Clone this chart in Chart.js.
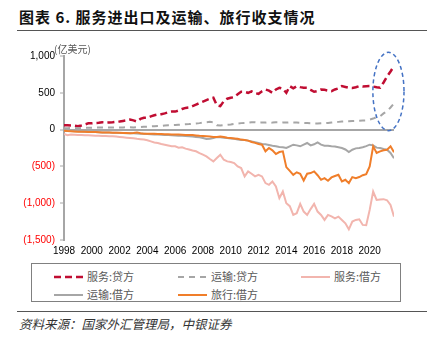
<!DOCTYPE html>
<html lang="zh">
<head>
  <meta charset="UTF-8">
  <title>服务进出口及运输、旅行收支情况</title>
  <script src="https://cdn.jsdelivr.net/npm/chart.js"></script>
  <style>
    body {
      margin: 0;
      width: 427px;
      height: 349px;
      background: #fff;
      position: relative;
      overflow: hidden;
      font-family: "Noto Sans CJK SC", sans-serif;
    }
    #title {
      position: absolute;
      left: 19px;
      top: 6px;
      font-size: 15px;
      font-weight: bold;
      letter-spacing: 1px;
      color: #111;
      white-space: nowrap;
    }
    .rule {
      position: absolute;
      left: 17px;
      right: 0;
      border-top: 1.5px solid #555;
    }
    #chart {
      position: absolute;
      left: 0;
      top: 0;
    }
    #legend {
      position: absolute;
      left: 31px;
      top: 263px;
      width: 370px;
      height: 39px;
      box-sizing: border-box;
      border: 1px solid #808080;
    }
    .item {
      position: absolute;
      font-size: 11px;
      color: #595959;
      line-height: 14px;
      white-space: nowrap;
    }
    .item svg {
      position: absolute;
      top: 4px;
    }
    .item span {
      position: absolute;
      left: 33px;
      top: -1px;
    }
    #source {
      position: absolute;
      left: 19px;
      top: 314px;
      font-size: 12.5px;
      font-style: italic;
      color: #333;
      white-space: nowrap;
    }
  </style>
</head>
<body>
  <div id="title">图表 6. 服务进出口及运输、旅行收支情况</div>
  <div class="rule" style="top:30px"></div>
  <canvas id="chart" width="427" height="262"></canvas>
  <div id="legend"></div>
  <div class="rule" style="top:311px"></div>
  <div id="source">资料来源：国家外汇管理局，中银证券</div>

  <script>
    // quarterly periods, 1998Q1 .. 2021Q4 (as fractional years)
    const periods = [];
    for (let y = 1998; y <= 2021; y++) {
      for (let q = 0; q < 4; q++) periods.push(y + q / 4);
    }

    const yTicks = [1000, 500, 0, -500, -1000, -1500];
    const xTicks = [1998, 2000, 2002, 2004, 2006, 2008, 2010, 2012, 2014, 2016, 2018, 2020];

    // 亿美元, one row per year
    const servCredit = [
      58, 60, 55, 52,   45, 55, 70, 85,   85, 90, 92, 100,   95, 98, 100, 105,
      110, 118, 125, 136,   125, 110, 145, 160,   160, 180, 195, 205,   210, 220, 235, 245,
      245, 260, 280, 295,   300, 320, 340, 360,   380, 400, 420, 432,   330, 318, 386, 420,
      432, 441, 480, 514,   514, 500, 520, 495,   486, 520, 545, 530,   500, 545, 568, 555,
      500, 591, 560, 590,   577, 570, 568, 540,   514, 525, 545, 540,   530, 523, 545, 560,
      591, 580, 568, 565,   575, 591, 585, 590,   591, 585, 575, 570,   640, 720, 790, 864
    ];
    const transCredit = [
      20, 20, 22, 22,   20, 22, 24, 25,   25, 27, 28, 30,   28, 28, 30, 30,
      30, 30, 32, 33,   30, 32, 36, 38,   40, 44, 46, 48,   50, 55, 58, 60,
      62, 66, 70, 72,   75, 80, 84, 88,   95, 100, 105, 100,   60, 55, 60, 65,
      70, 77, 82, 88,   90, 95, 100, 100,   95, 98, 95, 92,   95, 100, 100, 98,
      95, 100, 98, 95,   91, 90, 88, 86,   82, 82, 85, 88,   91, 95, 100, 105,
      110, 112, 114, 116,   118, 120, 123, 125,   136, 150, 170, 182,   220, 250, 300, 355
    ];
    const servDebit = [
      -59, -77, -68, -70,   -72, -75, -77, -78,   -80, -82, -85, -88,   -88, -90, -91, -95,
      -100, -105, -110, -114,   -118, -125, -130, -136,   -145, -160, -175, -182,   -195, -205, -215, -227,
      -227, -245, -240, -259,   -270, -285, -295, -320,   -340, -364, -400, -432,   -386, -341, -409, -432,
      -441, -455, -500, -523,   -636, -568, -600, -636,   -614, -636, -727, -750,   -705, -773, -932, -841,
      -1000, -1040, -1159, -1136,   -1009, -1114, -1159, -1080,   -1009, -1114, -1159, -1227,   -1159, -1180, -1205, -1182,
      -1227, -1273, -1355, -1250,   -1227, -1218, -1295, -1300,   -1091, -841, -955, -950,   -945, -960, -1023, -1182
    ];
    const transDebit = [
      -15, -18, -20, -22,   -22, -25, -28, -28,   -30, -32, -35, -38,   -38, -40, -42, -42,
      -45, -45, -48, -50,   -50, -52, -55, -58,   -60, -62, -65, -68,   -70, -72, -75, -78,
      -80, -82, -85, -88,   -90, -95, -100, -105,   -115, -127, -125, -114,   -100, -105, -110, -115,
      -120, -125, -135, -140,   -140, -150, -160, -170,   -180, -195, -200, -210,   -220, -227, -235, -241,
      -250, -227, -205, -214,   -227, -205, -182, -214,   -200, -173, -205, -218,   -220, -227, -230, -240,
      -250, -270, -305, -273,   -255, -250, -240, -225,   -205, -214, -245, -250,   -264, -273, -318, -390
    ];
    const travelDebit = [
      -15, -20, -22, -25,   -28, -30, -30, -32,   -32, -34, -36, -38,   -38, -40, -42, -42,
      -44, -45, -46, -48,   -45, -38, -50, -55,   -55, -56, -58, -59,   -60, -62, -64, -66,
      -66, -68, -70, -72,   -72, -75, -80, -85,   -88, -91, -95, -100,   -100, -95, -100, -110,
      -114, -120, -125, -136,   -140, -150, -168, -180,   -195, -205, -295, -250,   -282, -332, -305, -295,
      -510, -560, -614, -580,   -600, -691, -600, -591,   -568, -620, -682, -659,   -695, -650, -630, -614,
      -705, -682, -727, -645,   -659, -645, -620, -605,   -500, -227, -318, -295,   -280, -273, -227, -309
    ];

    // dashed ellipse marking the latest quarters
    const markCenter = { x: 2021.35, y: 518 };
    const markRadius = { x: 1.12, y: 532 };

    const numFont = "'Liberation Sans', Arial, sans-serif";

    const series = [
      { label: '服务:贷方', data: servCredit, color: '#C00D32', width: 2.5, dash: [7, 4] },
      { label: '运输:贷方', data: transCredit, color: '#A6A6A6', width: 2, dash: [6, 5] },
      { label: '服务:借方', data: servDebit, color: '#F2B5AE', width: 2, dash: [] },
      { label: '运输:借方', data: transDebit, color: '#A6A6A6', width: 2, dash: [] },
      { label: '旅行:借方', data: travelDebit, color: '#F07E2A', width: 2, dash: [] }
    ];

    // legend box under the chart
    const legendPos = [[22, 6], [146, 6], [269, 6], [22, 24], [146, 24]];
    const legend = document.getElementById('legend');
    series.forEach((s, i) => {
      const el = document.createElement('div');
      el.className = 'item';
      el.style.left = legendPos[i][0] + 'px';
      el.style.top = legendPos[i][1] + 'px';
      el.innerHTML =
        '<svg width="29" height="6"><line x1="0" y1="3" x2="29" y2="3" stroke="' + s.color +
        '" stroke-width="' + s.width + '" stroke-dasharray="' + (s.dash.length ? s.dash.join(' ') : 'none') +
        '"/></svg><span>' + s.label + '</span>';
      legend.appendChild(el);
    });

    const extras = {
      id: 'extras',
      afterDatasetsDraw(chart) {
        const { ctx, scales: { x, y } } = chart;
        const cx = x.getPixelForValue(markCenter.x);
        const cy = y.getPixelForValue(markCenter.y);
        const rx = x.getPixelForValue(markCenter.x + markRadius.x) - cx;
        const ry = cy - y.getPixelForValue(markCenter.y + markRadius.y);
        ctx.save();
        ctx.strokeStyle = '#4472C4';
        ctx.lineWidth = 1.5;
        ctx.setLineDash([4, 3]);
        ctx.beginPath();
        ctx.ellipse(cx, cy, rx, ry, 0, 0, Math.PI * 2);
        ctx.stroke();
        ctx.restore();
      },
      afterDraw(chart) {
        const { ctx, scales: { y } } = chart;
        ctx.save();
        ctx.fillStyle = '#595959';
        ctx.font = "10px 'Noto Sans CJK SC', sans-serif";
        ctx.textBaseline = 'middle';
        ctx.fillText('(亿美元)', 54, y.getPixelForValue(1000) - 7);
        ctx.restore();
      }
    };

    new Chart(document.getElementById('chart'), {
      type: 'line',
      data: {
        datasets: series.map((s, i) => ({
          label: s.label,
          data: s.data.map((v, k) => ({ x: periods[k], y: v })),
          borderColor: s.color,
          borderWidth: s.width,
          borderDash: s.dash,
          pointRadius: 0,
          tension: 0,
          fill: false,
          order: series.length - i
        }))
      },
      options: {
        responsive: false,
        animation: false,
        layout: { padding: { top: 56, right: 33, left: 0, bottom: 0 } },
        plugins: {
          legend: { display: false },
          tooltip: { enabled: false }
        },
        scales: {
          x: {
            type: 'linear',
            min: periods[0],
            max: periods[periods.length - 1],
            afterFit: s => { s.height = 22; },
            afterBuildTicks: s => { s.ticks = xTicks.map(v => ({ value: v })); },
            grid: { display: false, drawTicks: false },
            border: { display: false },
            ticks: {
              padding: 5,
              color: '#000',
              font: { family: numFont, size: 10 },
              maxRotation: 0,
              autoSkip: false,
              callback: v => String(v)
            }
          },
          y: {
            min: -1500,
            max: 1000,
            afterFit: s => { s.width = 64; },
            afterBuildTicks: s => { s.ticks = yTicks.map(v => ({ value: v })); },
            border: { color: '#A6A6A6', width: 2 },
            grid: {
              color: c => (c.tick && c.tick.value === 0 ? '#A6A6A6' : 'transparent'),
              lineWidth: 2,
              tickColor: '#A6A6A6',
              tickWidth: 1,
              tickLength: 4
            },
            ticks: {
              padding: 5,
              font: { family: numFont, size: 10 },
              color: c => (c.tick.value < 0 ? '#FF0000' : '#000'),
              callback: v => v < 0 ? '(' + Math.abs(v).toLocaleString('en-US') + ')' : v.toLocaleString('en-US')
            }
          }
        }
      },
      plugins: [extras]
    });
  </script>
</body>
</html>
